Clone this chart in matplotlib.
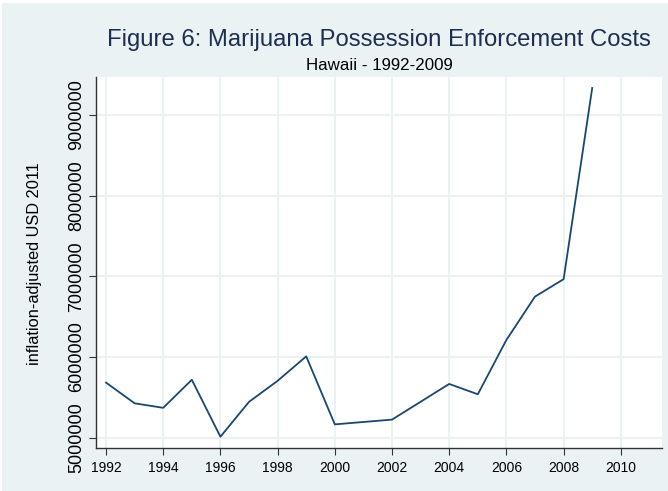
import matplotlib
matplotlib.use("Agg")
import matplotlib.pyplot as plt
from matplotlib.patches import Rectangle
from matplotlib.transforms import ScaledTranslation

years = [1992, 1993, 1994, 1995, 1996, 1997, 1998, 1999, 2000, 2002, 2004, 2005, 2006, 2007, 2008, 2009]
costs = [5683000, 5426000, 5370000, 5718000, 5012000, 5444000, 5705000, 6008000, 5165000, 5224000, 5666000, 5538000, 6212000, 6749000, 6965000, 9335000]
xticks = [1992, 1994, 1996, 1998, 2000, 2002, 2004, 2006, 2008, 2010]
yticks = [5000000, 6000000, 7000000, 8000000, 9000000]

plt.rcParams['font.family'] = ['Liberation Sans', 'DejaVu Sans']
bg = '#EAF2F3'
W, H = 668, 491
fig = plt.figure(figsize=(W/100, H/100), dpi=100, facecolor='white')
fig.patches.append(Rectangle((2/W, 0), 1, 1-3/H, transform=fig.transFigure,
                             facecolor=bg, edgecolor='none', zorder=-10))
ax = fig.add_axes([96/W, 1-448/H, (662-96)/W, (448-76.7)/H])
ax.set_facecolor('white')
ax.plot(years, costs, color='#1a476f', lw=1.3)
ax.set_xlim(1991.65, 2011.44)
ax.set_ylim(4872000, 9475000)
ax.set_xticks(xticks)
ax.set_xticklabels([str(t) for t in xticks], fontsize=10)
ax.set_yticks(yticks)
ax.set_yticklabels([str(t) for t in yticks], fontsize=13, rotation=90, va='center')
off = ScaledTranslation(0, 3/100, fig.dpi_scale_trans)
for lab in ax.get_yticklabels():
    lab.set_transform(lab.get_transform() + off)
ax.grid(True, color=bg, lw=1.5)
ax.set_axisbelow(True)
for s in ['top', 'right']:
    ax.spines[s].set_visible(False)
for s in ['left', 'bottom']:
    ax.spines[s].set_color('#333333')
    ax.spines[s].set_linewidth(1.0)
ax.tick_params(direction='out', length=5, width=0.8, color='#333333', labelcolor='black')
ax.tick_params(axis='x', pad=4)
ax.tick_params(axis='y', pad=3)
ax.set_ylabel('inflation-adjusted USD 2011', fontsize=11.8)
ax.yaxis.set_label_coords(35/W, 1-264/H, transform=fig.transFigure)
ax.yaxis.label.set_va('center')
fig.text(378.5/W, 1-46/H, 'Figure 6: Marijuana Possession Enforcement Costs', ha='center', va='baseline', fontsize=17.2, color='#1e2d52')
fig.text(379/W, 1-70/H, 'Hawaii - 1992-2009', ha='center', va='baseline', fontsize=12.2, color='black')
fig.savefig('out.png', dpi=100, facecolor='white')
